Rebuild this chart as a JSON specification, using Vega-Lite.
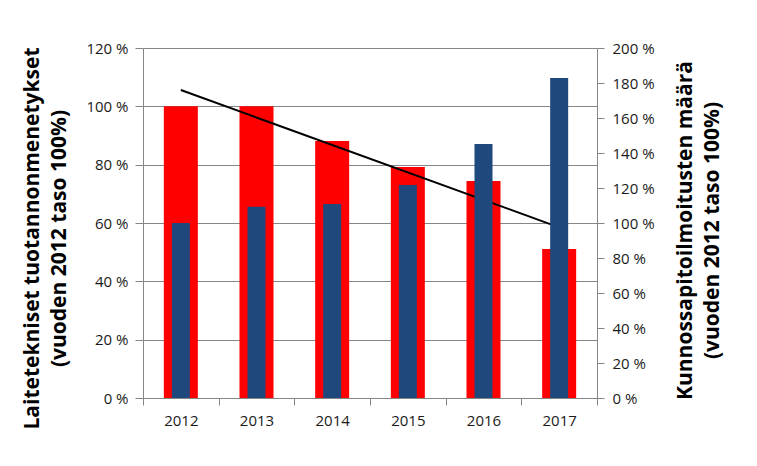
{
  "$schema": "https://vega.github.io/schema/vega-lite/v6.json",
  "width": 454,
  "height": 350,
  "autosize": "none",
  "padding": {"left": 143, "top": 48, "right": 160, "bottom": 68},
  "background": "white",
  "config": {
    "view": {"stroke": null},
    "font": "Open Sans",
    "axis": {"labelFont": "Open Sans", "titleFont": "Open Sans", "labelColor": "#1a1a1a", "labelFontSize": 15, "domainColor": "#868686", "tickColor": "#868686"}
  },
  "datasets": {
    "bars": [
      {"year": "2012", "laite": 100, "kunnossa": 100},
      {"year": "2013", "laite": 100, "kunnossa": 109.3},
      {"year": "2014", "laite": 88.1, "kunnossa": 110.9},
      {"year": "2015", "laite": 79.2, "kunnossa": 121.7},
      {"year": "2016", "laite": 74.4, "kunnossa": 145.1},
      {"year": "2017", "laite": 51.1, "kunnossa": 182.9}
    ],
    "trend": [
      {"year": "2012", "trendi": 105.6},
      {"year": "2017", "trendi": 58.5}
    ]
  },
  "encoding": {
    "x": {
      "field": "year", "type": "nominal",
      "scale": {"domain": ["2012", "2013", "2014", "2015", "2016", "2017"], "paddingInner": 0, "paddingOuter": 0},
      "axis": {"title": null, "labelAngle": 0, "tickBand": "extent", "tickSize": 7, "labelPadding": 8}
    }
  },
  "layer": [
    {
      "layer": [
        {
          "data": {"name": "bars"},
          "mark": {"type": "bar", "color": "#FF0000", "size": 34},
          "encoding": {
            "y": {
              "field": "laite", "type": "quantitative",
              "scale": {"domain": [0, 120], "nice": false, "zero": true},
              "axis": {
                "orient": "left",
                "values": [0, 20, 40, 60, 80, 100, 120],
                "labelExpr": "datum.value + ' %'",
                "grid": true, "gridColor": "#868686",
                "tickSize": 8, "labelPadding": 7,
                "title": ["Laitetekniset tuotannonmenetykset", "(vuoden 2012 taso 100%)"],
                "titleAngle": -90, "titleX": -122, "titleY": 190,
                "titleBaseline": "top", "titleAlign": "center",
                "titleFontSize": 21, "titleFontWeight": "bold", "titleColor": "#000000",
                "titleLineHeight": 27
              }
            }
          }
        },
        {
          "data": {"name": "trend"},
          "mark": {"type": "line", "color": "#000000", "strokeWidth": 2},
          "encoding": {
            "y": {"field": "trendi", "type": "quantitative"}
          }
        }
      ]
    },
    {
      "data": {"name": "bars"},
      "mark": {"type": "bar", "color": "#1F497D", "size": 18},
      "encoding": {
        "y": {
          "field": "kunnossa", "type": "quantitative",
          "scale": {"domain": [0, 200], "nice": false},
          "axis": {
            "orient": "right",
            "values": [0, 20, 40, 60, 80, 100, 120, 140, 160, 180, 200],
            "labelExpr": "datum.value + ' %'",
            "grid": false,
            "tickSize": 7, "labelPadding": 8,
            "title": ["Kunnossapitoilmoitusten määrä", "(vuoden 2012 taso 100%)"],
            "titleAngle": -90, "titleX": 77, "titleY": 182,
            "titleBaseline": "top", "titleAlign": "center",
            "titleFontSize": 21, "titleFontWeight": "bold", "titleColor": "#000000",
            "titleLineHeight": 27
          }
        }
      }
    }
  ],
  "resolve": {"scale": {"y": "independent"}}
}
